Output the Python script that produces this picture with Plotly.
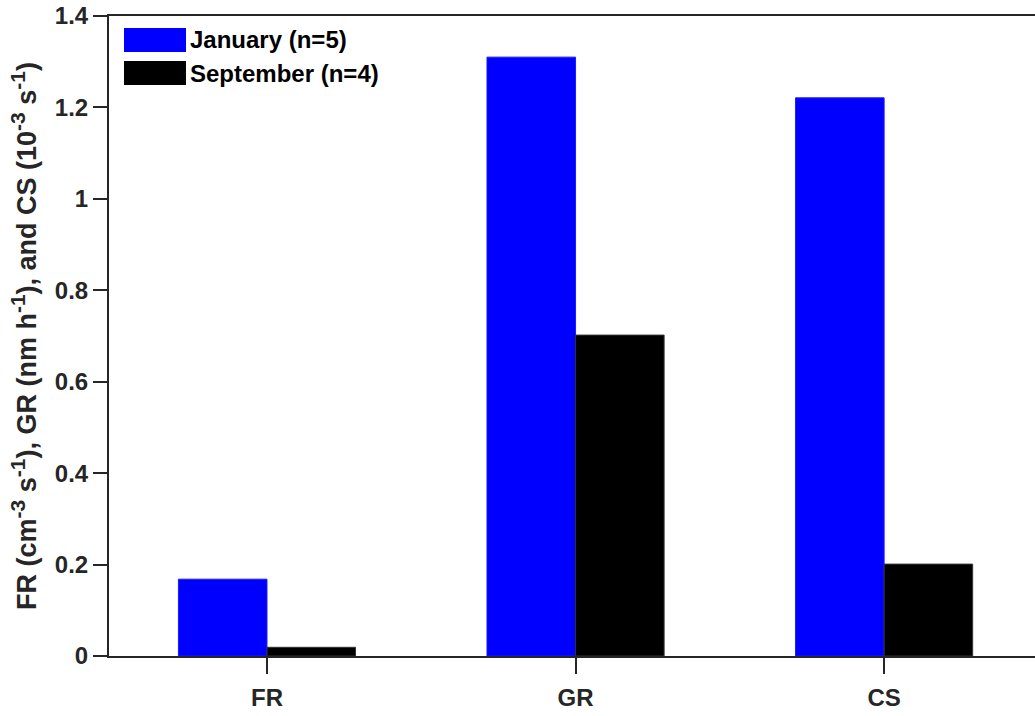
import plotly.graph_objects as go

categories = ["FR", "GR", "CS"]
january = [0.168, 1.31, 1.221]
september = [0.019, 0.702, 0.201]
series_names = ["January (n=5)", "September (n=4)"]
series_colors = ["#0000ff", "#000000"]
yticks = [0, 0.2, 0.4, 0.6, 0.8, 1, 1.2, 1.4]
ytick_labels = ["0", "0.2", "0.4", "0.6", "0.8", "1", "1.2", "1.4"]

axis_col = "#262626"
font_fam = "Liberation Sans, Arial, sans-serif"

fig = go.Figure()
fig.add_trace(go.Bar(x=categories, y=january, name=series_names[0],
                     marker=dict(color=series_colors[0], line=dict(color="#1a1aff", width=1)),
                     showlegend=False))
fig.add_trace(go.Bar(x=categories, y=september, name=series_names[1],
                     marker=dict(color=series_colors[1], line=dict(color="#333333", width=1)),
                     showlegend=False))

W, H = 1035, 716
ml, mt, mb, mr = 109, 16, 60, 0
pw, ph = W - ml - mr, H - mt - mb

def px2paper_x(px):
    return (px - ml) / pw

def px2paper_y(py):
    return 1 - (py - mt) / ph

sw = [(28, 52), (61, 85)]
for (y0, y1), col, name in zip(sw, series_colors, series_names):
    fig.add_shape(type="rect", xref="paper", yref="paper",
                  x0=px2paper_x(124), x1=px2paper_x(186),
                  y0=px2paper_y(y1), y1=px2paper_y(y0),
                  fillcolor=col, line=dict(width=0))
    fig.add_annotation(xref="paper", yref="paper", x=px2paper_x(188),
                       y=px2paper_y((y0 + y1) / 2), text="<b>%s</b>" % name,
                       showarrow=False, xanchor="left", yanchor="middle",
                       font=dict(size=24, color="#000000", family=font_fam))

sup = lambda s: "<sup><span style='font-size:21px'>%s</span></sup>" % s
ytitle = ("<b>FR (cm" + sup("-3") + " s" + sup("-1") + "), GR (nm h" + sup("-1") +
          "), and CS (10" + sup("-3") + " s" + sup("-1") + ")</b>")

fig.update_layout(
    width=W, height=H,
    margin=dict(l=ml, r=mr, t=mt, b=mb, pad=0),
    plot_bgcolor="white", paper_bgcolor="white",
    barmode="group", bargap=0.426, bargroupgap=0,
    font=dict(family=font_fam, size=24, color=axis_col),
    showlegend=False,
)
fig.update_xaxes(
    range=[-0.512, 2.489], automargin=False,
    showline=True, linecolor=axis_col, linewidth=2, mirror=True,
    ticks="outside", ticklen=16, tickwidth=2, tickcolor=axis_col,
    tickfont=dict(size=24, color=axis_col, family=font_fam, weight="bold"),
    ticklabelstandoff=3,
    showgrid=False, zeroline=False,
)
fig.update_yaxes(
    range=[0, 1.4], tickvals=yticks, ticktext=ytick_labels, automargin=False,
    showline=True, linecolor=axis_col, linewidth=2, mirror=False,
    ticks="outside", ticklen=14, tickwidth=2, tickcolor=axis_col,
    tickfont=dict(size=24, color=axis_col, family=font_fam, weight="bold"),
    showgrid=False, zeroline=False,
    title=dict(text=ytitle, font=dict(size=27, color=axis_col, family=font_fam), standoff=10),
)

fig.write_html("out.html", config={"displayModeBar": False},
               post_script="document.body.style.margin='0';document.body.style.overflow='hidden';")
